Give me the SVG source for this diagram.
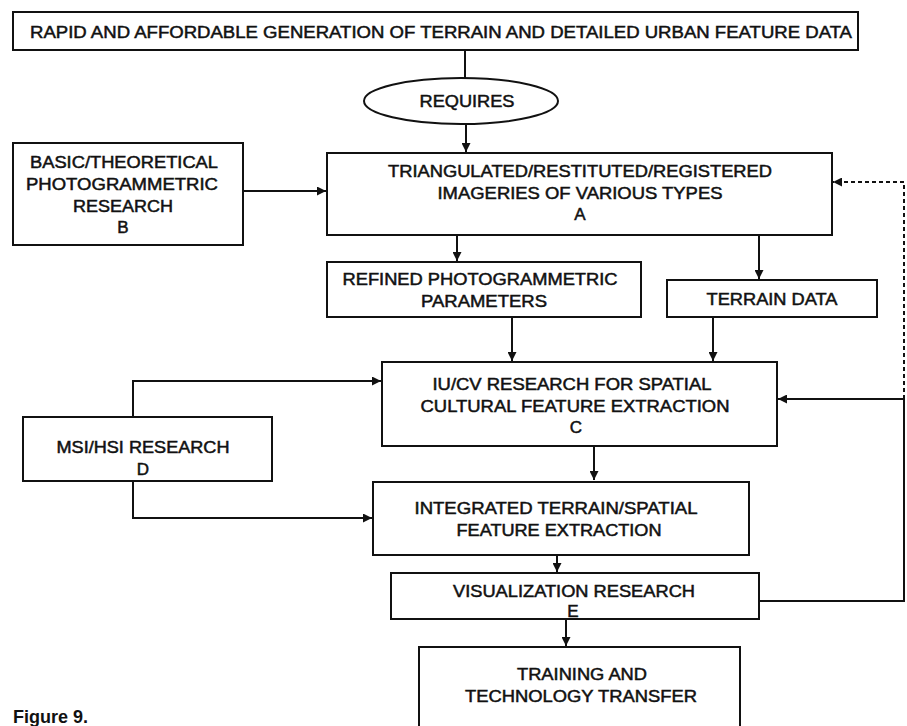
<svg xmlns="http://www.w3.org/2000/svg" width="907" height="726" viewBox="0 0 907 726">
<style>
.box{fill:#fff;stroke:#111;stroke-width:2}
.t{font-family:"Liberation Sans",Arial,sans-serif;font-size:17px;fill:#111;stroke:#111;stroke-width:0.5;text-anchor:middle}
.c{fill:none;stroke:#111;stroke-width:2}
.d{fill:none;stroke:#111;stroke-width:2;stroke-dasharray:4,3}
.fig{font-family:"Liberation Sans",Arial,sans-serif;font-size:18px;font-weight:bold;fill:#111}
</style>
<defs>
<marker id="ah" viewBox="0 0 10 10" refX="10" refY="5" markerWidth="9" markerHeight="9" markerUnits="userSpaceOnUse" orient="auto">
<path d="M0,0 L10,5 L0,10 z" fill="#111"/>
</marker>
</defs>
<rect width="907" height="726" fill="#fff"/>
<g id="connectors">
<path class="c" d="M465,50 V78"/>
<path class="c" d="M466,125 V152" marker-end="url(#ah)"/>
<path class="c" d="M243,191 H326" marker-end="url(#ah)"/>
<path class="c" d="M457,235 V261" marker-end="url(#ah)"/>
<path class="c" d="M759,235 V279" marker-end="url(#ah)"/>
<path class="c" d="M512,317 V361" marker-end="url(#ah)"/>
<path class="c" d="M713,317 V361" marker-end="url(#ah)"/>
<path class="d" d="M904,399 V182 H833" marker-end="url(#ah)"/>
<path class="c" d="M904,399 H778" marker-end="url(#ah)"/>
<path class="c" d="M759,601 H904 V399"/>
<path class="c" d="M133,417 V381 H381" marker-end="url(#ah)"/>
<path class="c" d="M133,481 V518 H372" marker-end="url(#ah)"/>
<path class="c" d="M594,446 V480" marker-end="url(#ah)"/>
<path class="c" d="M557,555 V572" marker-end="url(#ah)"/>
<path class="c" d="M566,619 V646" marker-end="url(#ah)"/>
</g>
<g id="top">
<rect class="box" x="13" y="12" width="845" height="38"/>
<text class="t" x="441" y="38" textLength="822" lengthAdjust="spacingAndGlyphs">RAPID AND AFFORDABLE GENERATION OF TERRAIN AND DETAILED URBAN FEATURE DATA</text>
</g>
<g id="requires">
<ellipse class="box" cx="461" cy="101" rx="97" ry="23"/>
<text class="t" x="467" y="107" textLength="95" lengthAdjust="spacingAndGlyphs">REQUIRES</text>
</g>
<g id="nodeB">
<rect class="box" x="13" y="143" width="230" height="102"/>
<text class="t" x="124" y="168" textLength="188" lengthAdjust="spacingAndGlyphs">BASIC/THEORETICAL</text>
<text class="t" x="122" y="190" textLength="192" lengthAdjust="spacingAndGlyphs">PHOTOGRAMMETRIC</text>
<text class="t" x="123" y="212" textLength="100" lengthAdjust="spacingAndGlyphs">RESEARCH</text>
<text class="t" x="123" y="233">B</text>
</g>
<g id="nodeA">
<rect class="box" x="327" y="153" width="505" height="82"/>
<text class="t" x="580" y="177" textLength="384" lengthAdjust="spacingAndGlyphs">TRIANGULATED/RESTITUTED/REGISTERED</text>
<text class="t" x="580" y="199" textLength="285" lengthAdjust="spacingAndGlyphs">IMAGERIES OF VARIOUS TYPES</text>
<text class="t" x="580" y="220">A</text>
</g>
<g id="refined">
<rect class="box" x="327" y="262" width="314" height="55"/>
<text class="t" x="480" y="285" textLength="275" lengthAdjust="spacingAndGlyphs">REFINED PHOTOGRAMMETRIC</text>
<text class="t" x="484" y="307" textLength="126" lengthAdjust="spacingAndGlyphs">PARAMETERS</text>
</g>
<g id="terrain">
<rect class="box" x="667" y="280" width="210" height="37"/>
<text class="t" x="772" y="305" textLength="131" lengthAdjust="spacingAndGlyphs">TERRAIN DATA</text>
</g>
<g id="nodeC">
<rect class="box" x="382" y="362" width="395" height="84"/>
<text class="t" x="572" y="390" textLength="279" lengthAdjust="spacingAndGlyphs">IU/CV RESEARCH FOR SPATIAL</text>
<text class="t" x="575" y="412" textLength="309" lengthAdjust="spacingAndGlyphs">CULTURAL FEATURE EXTRACTION</text>
<text class="t" x="576" y="433">C</text>
</g>
<g id="nodeD">
<rect class="box" x="23" y="417" width="249" height="64"/>
<text class="t" x="143" y="453" textLength="173" lengthAdjust="spacingAndGlyphs">MSI/HSI RESEARCH</text>
<text class="t" x="143" y="475">D</text>
</g>
<g id="integrated">
<rect class="box" x="373" y="482" width="376" height="73"/>
<text class="t" x="556" y="514" textLength="283" lengthAdjust="spacingAndGlyphs">INTEGRATED TERRAIN/SPATIAL</text>
<text class="t" x="559" y="536" textLength="205" lengthAdjust="spacingAndGlyphs">FEATURE EXTRACTION</text>
</g>
<g id="nodeE">
<rect class="box" x="391" y="573" width="368" height="46"/>
<text class="t" x="574" y="597" textLength="242" lengthAdjust="spacingAndGlyphs">VISUALIZATION RESEARCH</text>
<text class="t" x="573" y="617">E</text>
</g>
<g id="training">
<rect class="box" x="419" y="647" width="321" height="90"/>
<text class="t" x="582" y="680" textLength="130" lengthAdjust="spacingAndGlyphs">TRAINING AND</text>
<text class="t" x="581" y="702" textLength="232" lengthAdjust="spacingAndGlyphs">TECHNOLOGY TRANSFER</text>
</g>
<text class="fig" x="13" y="723">Figure 9.</text>
</svg>
